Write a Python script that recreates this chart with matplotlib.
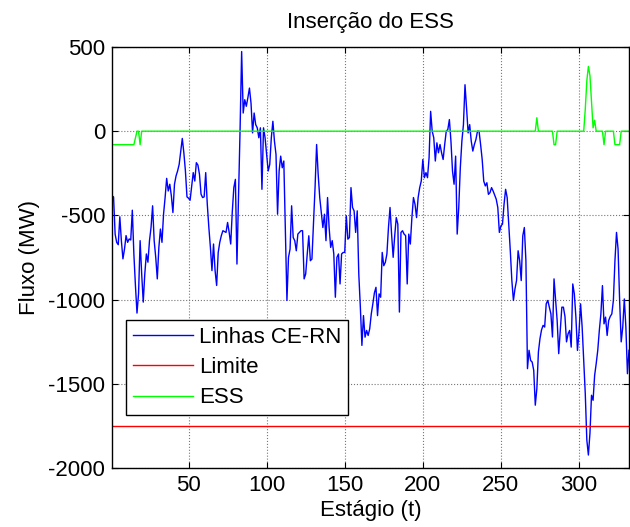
import numpy as np
import matplotlib
matplotlib.use("Agg")
import matplotlib.pyplot as plt

plt.rcParams['font.family'] = ['Liberation Sans', 'DejaVu Sans']
plt.rcParams['axes.unicode_minus'] = False

# fluxo nas linhas CE-RN (MW), estagios 1..332
fluxo = [
    -384, -390, -611, -660, -674, -508, -650, -758, -700, -620,
    -660, -640, -646, -469, -729, -916, -1080, -965, -650, -847,
    -1015, -847, -729, -778, -650, -571, -443, -650, -749, -877,
    -690, -581, -660, -493, -394, -280, -355, -315, -384, -483,
    -315, -266, -236, -197, -118, -43, -128, -236, -390, -398,
    -410, -330, -246, -296, -187, -201, -256, -374, -394, -390,
    -246, -433, -571, -690, -828, -670, -828, -916, -720, -660,
    -620, -591, -596, -601, -542, -600, -670, -480, -335, -286,
    -789, -400, 10, 473, 108, 187, 148, 200, 256, 167,
    -10, 108, 39, 20, -39, 20, -345, 20, -39, -138,
    -236, -197, -39, 59, -59, -138, -493, -236, -148, -217,
    -177, -590, -1005, -749, -700, -443, -631, -650, -710, -611,
    -601, -591, -591, -877, -848, -729, -621, -769, -759, -552,
    -335, -79, -256, -394, -480, -572, -493, -650, -394, -572,
    -690, -650, -729, -986, -749, -729, -907, -729, -720, -720,
    -502, -641, -631, -335, -453, -473, -601, -473, -848, -1045,
    -1272, -1095, -1223, -1183, -1213, -1173, -1085, -1025, -960, -927,
    -1095, -966, -986, -720, -799, -779, -729, -572, -453, -611,
    -749, -621, -513, -552, -1074, -601, -591, -611, -620, -907,
    -611, -670, -513, -394, -434, -513, -394, -335, -296, -168,
    -276, -246, -276, -158, 118, 0, -39, -177, -69, -128,
    -79, -128, -168, -79, 0, 10, 69, -59, -236, -315,
    -148, -611, -453, -217, -59, 39, 276, 138, -10, 39,
    -59, -118, -79, -49, 0, 0, -80, -168, -296, -325,
    -306, -375, -365, -335, -355, -380, -404, -453, -601, -562,
    -552, -434, -345, -394, -552, -710, -887, -1005, -936, -887,
    -710, -769, -887, -621, -572, -769, -1410, -1301, -1361, -1371,
    -1420, -1627, -1529, -1311, -1232, -1180, -1153, -1163, -1025, -1005,
    -1045, -1085, -1222, -877, -1000, -1124, -1321, -1183, -1045, -1045,
    -1100, -1251, -1203, -1183, -1282, -907, -966, -1104, -1302, -1193,
    -1025, -1163, -1361, -1558, -1834, -1923, -1794, -1568, -1598, -1450,
    -1380, -1301, -1183, -1085, -917, -1144, -1104, -1213, -1124, -1100,
    -1085, -1005, -769, -601, -700, -1005, -1251, -1163, -996, -1163,
    -1440, -1301,
]
limite = -1750

# ESS: zero except at these estagios
ess_t = [1, 2, 3, 4, 5, 6, 7, 8, 9, 10, 11, 12, 13, 14, 15, 16, 19,
         273, 284, 285, 304, 305, 306, 307, 308, 309, 310, 316,
         323, 324, 325, 326]
ess_v = [-80, -80, -80, -80, -80, -80, -80, -80, -80, -80, -80, -80, -80, -80, -80, -40, -80,
         80, -80, -80, 130, 300, 385, 330, 170, 20, 65, -80,
         -80, -80, -80, -80]

t = np.arange(1, len(fluxo) + 1)
ess = np.zeros(len(fluxo))
ess[np.array(ess_t) - 1] = ess_v

fig = plt.figure(figsize=(6.3, 5.27), dpi=100)
ax = fig.add_axes([112 / 630, 59 / 527, 517 / 630, 421 / 527])

ax.plot(t, fluxo, color='#0000ff', lw=1.0, label='Linhas CE-RN')
ax.plot(t, np.full(len(t), limite), color='#ff0000', lw=1.0, label='Limite')
ax.plot(t, ess, color='#00ff00', lw=1.0, label='ESS')

ax.set_xlim(1, len(fluxo))
ax.set_ylim(-2000, 500)
ax.set_xticks(np.arange(50, 301, 50))
ax.set_yticks(np.arange(-2000, 501, 500))
ax.grid(True, linestyle=':', color='#777777', lw=0.8)
ax.tick_params(direction='in', top=True, right=True, length=4, labelsize=16, pad=5)
for s in ax.spines.values():
    s.set_linewidth(1.0)

ax.set_title('Inserção do ESS', fontsize=16, pad=14)
ax.set_xlabel('Estágio (t)', fontsize=16, labelpad=3)
ax.set_ylabel('Fluxo (MW)', fontsize=16, labelpad=6)

leg = ax.legend(loc='lower left', bbox_to_anchor=(0.027, 0.126), borderaxespad=0,
                fontsize=16, fancybox=False, framealpha=1, edgecolor='black',
                handlelength=2.7, handletextpad=0.3, labelspacing=0.42, borderpad=0.3)
leg.get_frame().set_linewidth(1.0)

fig.savefig('out.png', dpi=100)
